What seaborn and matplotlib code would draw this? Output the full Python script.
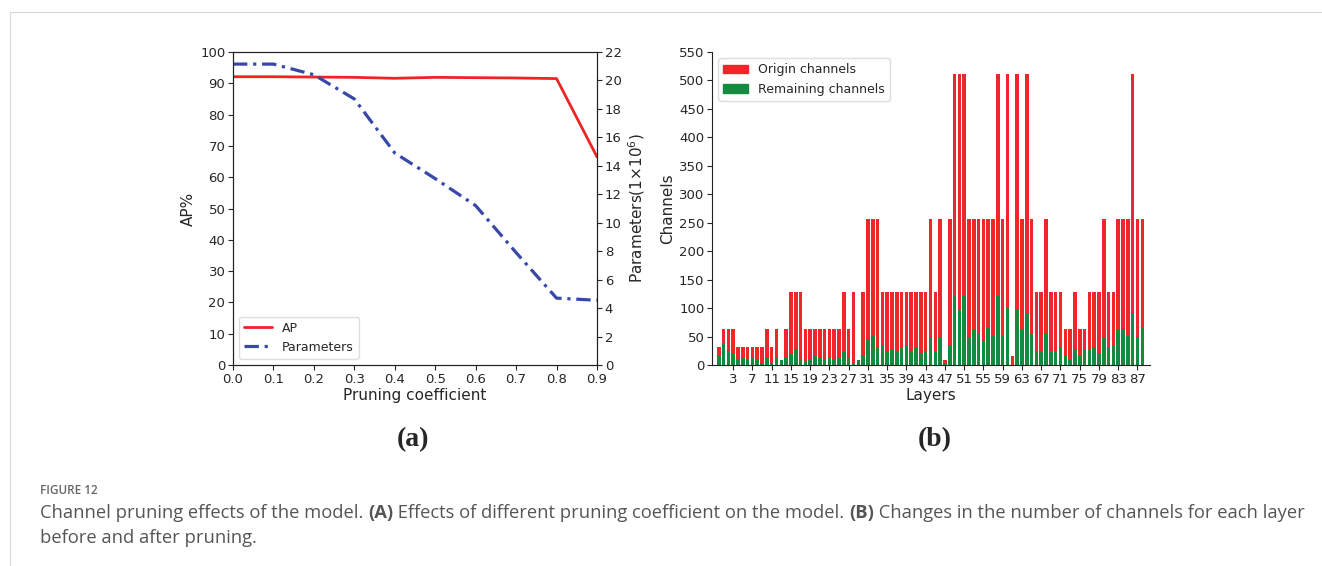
import numpy as np
import pandas as pd
import matplotlib
matplotlib.use("Agg")
import matplotlib.pyplot as plt
import seaborn as sns
from matplotlib.lines import Line2D
from matplotlib.patches import Patch

# ---------------- data ----------------
pruning_coef = [0.0, 0.1, 0.2, 0.3, 0.4, 0.5, 0.6, 0.7, 0.8, 0.9]
ap_values = [92.1, 92.1, 92.0, 91.9, 91.6, 91.9, 91.8, 91.7, 91.5, 66.5]
param_values = [21.15, 21.15, 20.4, 18.7, 14.9, 13.1, 11.2, 7.9, 4.7, 4.55]

origin_channels = [32, 64, 64, 64, 32, 32, 32, 32, 32, 32,
                   64, 32, 64, 8, 64, 128, 128, 128, 64, 64,
                   64, 64, 64, 64, 64, 64, 128, 64, 128, 8,
                   128, 256, 256, 256, 128, 128, 128, 128, 128, 128,
                   128, 128, 128, 128, 256, 128, 256, 8, 256, 512,
                   512, 512, 256, 256, 256, 256, 256, 256, 512, 256,
                   512, 16, 512, 256, 512, 256, 128, 128, 256, 128,
                   128, 128, 64, 64, 128, 64, 64, 128, 128, 128,
                   256, 128, 128, 256, 256, 256, 512, 256, 256]
remaining_channels = [16, 39, 25, 19, 8, 14, 10, 13, 9, 4,
                      12, 4, 12, 8, 14, 19, 27, 10, 7, 11,
                      16, 14, 10, 13, 10, 13, 23, 13, 3, 8,
                      16, 46, 51, 31, 33, 22, 26, 24, 29, 36,
                      25, 29, 19, 25, 48, 22, 48, 3, 33, 121,
                      96, 121, 48, 61, 54, 43, 67, 51, 121, 51,
                      100, 0, 99, 61, 89, 54, 25, 22, 54, 25,
                      23, 29, 16, 8, 26, 16, 26, 27, 32, 20,
                      48, 30, 33, 61, 64, 51, 92, 50, 67]
layer_ids = list(range(len(origin_channels)))
layer_tick_labels = [str(v) for v in range(3, 88, 4)]

caption_title = "FIGURE 12"
caption_line1 = [("Channel pruning effects of the model. ", "normal"), ("(A)", "bold"),
                 (" Effects of different pruning coefficient on the model. ", "normal"),
                 ("(B)", "bold"),
                 (" Changes in the number of channels for each layer", "normal")]
caption_line2 = "before and after pruning."

# ---------------- style ----------------
sns.set_theme(style="ticks")
plt.rcParams['font.family'] = ['DejaVu Sans']

RED = "#f02424"
BLUE = "#3848a8"
BAR_RED = "#f0262a"
BAR_GREEN = "#148a3e"
DASHDOT = (0, (4.5, 1.8, 1.0, 1.8))
W, H = 1322, 566
fig = plt.figure(figsize=(W / 100, H / 100), dpi=100)


def fx(px):
    return px / W


def fy(py):
    return 1 - py / H


# ---------------- panel (a) ----------------
axa = fig.add_axes([fx(233), fy(365), fx(597) - fx(233), fy(52) - fy(365)])
df_a = pd.DataFrame({"coef": pruning_coef, "ap": ap_values, "params": param_values})
sns.lineplot(data=df_a, x="coef", y="ap", ax=axa, color=RED, linewidth=2.0)
axa.set_xlim(0, 0.9)
axa.set_ylim(0, 100)
axa.set_xticks(np.round(np.arange(0, 0.91, 0.1), 1))
axa.set_xticklabels([f"{v:.1f}" for v in np.arange(0, 0.91, 0.1)])
axa.set_yticks(range(0, 101, 10))
axa.set_xlabel("Pruning coefficient", fontsize=11, labelpad=2)
axa.set_ylabel("AP%", fontsize=11, labelpad=3)
axa.tick_params(labelsize=9.5, length=3.5, width=0.8, pad=2)

axb = axa.twinx()
sns.lineplot(data=df_a, x="coef", y="params", ax=axb, color=BLUE, linewidth=2.3,
             linestyle=DASHDOT)
axb.set_ylim(0, 22)
axb.set_yticks(range(0, 23, 2))
axb.set_ylabel("Parameters(1×10$^6$)", fontsize=11, labelpad=3)
axb.tick_params(labelsize=9.5, length=3.5, width=0.8, pad=2)
for ax in (axa, axb):
    for s in ax.spines.values():
        s.set_linewidth(0.8)
        s.set_color("#222222")

handles = [Line2D([], [], color=RED, linewidth=2.0),
           Line2D([], [], color=BLUE, linewidth=2.3, linestyle=DASHDOT)]
axb.legend(handles, ["AP", "Parameters"], loc="lower left", fontsize=9,
           frameon=True, framealpha=1, edgecolor="#dddddd", borderaxespad=0.5,
           handlelength=2.2)

# ---------------- panel (b) ----------------
axc = fig.add_axes([fx(712), fy(365), fx(1150) - fx(712), fy(52) - fy(365)])
df_b = pd.DataFrame({"layer": layer_ids, "origin": origin_channels, "remain": remaining_channels})
sns.barplot(data=df_b, x="layer", y="origin", ax=axc, color=BAR_RED, width=0.74,
            saturation=1, linewidth=0, order=layer_ids)
sns.barplot(data=df_b, x="layer", y="remain", ax=axc, color=BAR_GREEN, width=0.74,
            saturation=1, linewidth=0, order=layer_ids)
axc.set_xlim(-1.4, 89.6)
axc.set_ylim(0, 550)
axc.set_yticks(range(0, 551, 50))
axc.set_xticks([int(v) for v in layer_tick_labels])
axc.set_xticklabels(layer_tick_labels)
axc.set_xlabel("Layers", fontsize=11, labelpad=2)
axc.set_ylabel("Channels", fontsize=11, labelpad=3)
axc.tick_params(labelsize=9.5, length=3.5, width=0.8, pad=2)
axc.spines["top"].set_visible(False)
axc.spines["right"].set_visible(False)
for s in ("left", "bottom"):
    axc.spines[s].set_linewidth(0.8)
    axc.spines[s].set_color("#222222")
axc.legend([Patch(color=BAR_RED), Patch(color=BAR_GREEN)],
           ["Origin channels", "Remaining channels"], loc="upper left", fontsize=9,
           frameon=True, framealpha=1, edgecolor="#dddddd", borderaxespad=0.5)

# ---------------- labels and caption ----------------
fig.text(fx(413), fy(440), "(a)", ha="center", va="center", fontsize=20,
         fontweight="bold", family="Liberation Serif")
fig.text(fx(935), fy(440), "(b)", ha="center", va="center", fontsize=20,
         fontweight="bold", family="Liberation Serif")

fig.text(fx(40), fy(490), caption_title, ha="left", va="center", fontsize=8.5,
         color="#666666", family="Open Sans", fontweight="semibold")

renderer = fig.canvas.get_renderer()
x_px = 40.0
for seg, weight in caption_line1:
    t = fig.text(fx(x_px), fy(513), seg, ha="left", va="center", fontsize=13.2,
                 color="#555555", family="Open Sans", fontweight=weight)
    bb = t.get_window_extent(renderer=renderer)
    x_px += bb.width
fig.text(fx(40), fy(538), caption_line2, ha="left", va="center", fontsize=13.2,
         color="#555555", family="Open Sans")

# page frame lines
fig.add_artist(Line2D([fx(10), 1], [fy(12), fy(12)], color="#d8d8d8", linewidth=0.8))
fig.add_artist(Line2D([fx(10), fx(10)], [fy(12), 0], color="#d8d8d8", linewidth=0.8))

fig.savefig("out.png", dpi=100)
